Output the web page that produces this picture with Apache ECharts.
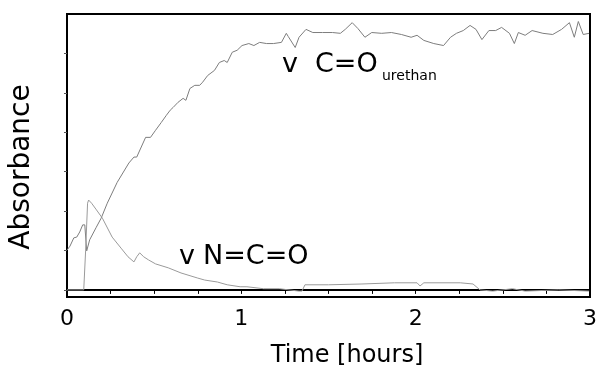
<!DOCTYPE html>
<html>
<head>
<meta charset="utf-8">
<script src="https://cdn.jsdelivr.net/npm/echarts@6/dist/echarts.min.js"></script>
<style>
  html, body { margin: 0; padding: 0; background: #fff; }
  #chart { width: 600px; height: 368px; }
</style>
</head>
<body>
<div id="chart"></div>
<script>
// time in hours, absorbance in arbitrary units (one y tick = 0.1)
const coTime = [0, 0.017, 0.039, 0.056, 0.073, 0.09, 0.102, 0.113, 0.13, 0.168, 0.196, 0.231, 0.288, 0.355, 0.384, 0.4,
  0.451, 0.479, 0.508, 0.541, 0.57, 0.592, 0.609, 0.637, 0.666, 0.682, 0.705, 0.733, 0.761, 0.778, 0.807, 0.846,
  0.874, 0.902, 0.919, 0.948, 0.976, 1.004, 1.043, 1.072, 1.105, 1.145, 1.184, 1.23, 1.258, 1.269, 1.309, 1.331,
  1.371, 1.41, 1.466, 1.523, 1.568, 1.596, 1.636, 1.669, 1.709, 1.748, 1.805, 1.861, 1.918, 1.974, 2.008, 2.047,
  2.104, 2.16, 2.2, 2.234, 2.273, 2.312, 2.346, 2.38, 2.42, 2.459, 2.493, 2.538, 2.566, 2.589, 2.628, 2.668,
  2.73, 2.786, 2.837, 2.882, 2.91, 2.933, 2.961, 2.995]
const coValue = [0.101, 0.111, 0.132, 0.134, 0.147, 0.165, 0.165, 0.099, 0.127, 0.159, 0.182, 0.22, 0.273, 0.322, 0.337, 0.337,
  0.387, 0.387, 0.405, 0.425, 0.443, 0.456, 0.463, 0.476, 0.486, 0.481, 0.511, 0.519, 0.519, 0.527, 0.544, 0.557,
  0.577, 0.582, 0.577, 0.603, 0.608, 0.62, 0.625, 0.62, 0.628, 0.625, 0.625, 0.628, 0.651, 0.643, 0.615, 0.641,
  0.661, 0.653, 0.653, 0.653, 0.651, 0.661, 0.678, 0.663, 0.641, 0.653, 0.651, 0.653, 0.648, 0.641, 0.646, 0.633,
  0.625, 0.62, 0.641, 0.651, 0.658, 0.671, 0.661, 0.635, 0.658, 0.658, 0.666, 0.651, 0.625, 0.653, 0.646, 0.658,
  0.651, 0.648, 0.661, 0.678, 0.641, 0.681, 0.648, 0.651]

const ncoTime = [0, 0.096, 0.099, 0.107, 0.118, 0.124, 0.141, 0.169, 0.203, 0.259, 0.31, 0.35, 0.384, 0.4, 0.417, 0.44,
  0.468, 0.508, 0.581, 0.654, 0.75, 0.79, 0.863, 0.919, 0.993, 1.032, 1.128, 1.218, 1.331, 1.348, 1.365, 1.5,
  1.692, 1.878, 2.008, 2.025, 2.047, 2.256, 2.329, 2.369, 2.442, 2.555, 2.628, 2.82, 2.995]
const ncoValue = [0, 0, 0, 0.101, 0.22, 0.228, 0.22, 0.203, 0.182, 0.134, 0.106, 0.084, 0.071, 0.084, 0.094, 0.084,
  0.076, 0.066, 0.056, 0.043, 0.03, 0.025, 0.02, 0.013, 0.008, 0.008, 0.003, 0.003, -0.003, -0.003, 0.013, 0.013,
  0.015, 0.018, 0.018, 0.01, 0.018, 0.018, 0.015, 0, -0.003, 0.003, -0.003, 0, -0.003]

const xTickValues = [0, 0.25, 0.5, 0.75, 1, 1.25, 1.5, 1.75, 2, 2.25, 2.5, 2.75, 3]
const xLabelValues = [0, 1, 2, 3]
const yTickValues = [0, 0.1, 0.2, 0.3, 0.4, 0.5, 0.6]

const font = 'DejaVu Sans'
const chart = echarts.init(document.getElementById('chart'))

const option = {
  animation: false,
  grid: {
    left: 67, right: 1, top: 14, bottom: 71,
    show: true, borderColor: '#000', borderWidth: 2
  },
  xAxis: {
    type: 'value',
    min: 0, max: 3,
    axisLine: { show: true, lineStyle: { color: '#000', width: 2 } },
    axisTick: { show: true, customValues: xTickValues, length: 4, lineStyle: { color: '#000' } },
    axisLabel: { customValues: xLabelValues, color: '#000', fontFamily: font, fontSize: 22, margin: 11 },
    splitLine: { show: false }
  },
  yAxis: {
    type: 'value',
    min: -0.018, max: 0.7,
    axisLine: { show: true, lineStyle: { color: '#000', width: 2 } },
    axisTick: { show: true, customValues: yTickValues, length: 3, lineStyle: { color: '#555' } },
    axisLabel: { show: false },
    splitLine: { show: false }
  },
  graphic: [
    { type: 'text', x: 22, y: 167, rotation: Math.PI / 2,
      style: { text: 'Absorbance', font: '28px "DejaVu Sans"', fill: '#000', align: 'center', verticalAlign: 'middle' } },
    { type: 'text', x: 347, y: 356,
      style: { text: 'Time [hours]', font: '24px "DejaVu Sans"', fill: '#000', align: 'center', verticalAlign: 'middle' } },
    { type: 'text', x: 282, y: 65,
      style: { text: 'v', font: '27px "DejaVu Sans"', fill: '#000', align: 'left', verticalAlign: 'middle' } },
    { type: 'text', x: 315, y: 65,
      style: { text: 'C=O', font: '27px "DejaVu Sans"', fill: '#000', align: 'left', verticalAlign: 'middle' } },
    { type: 'text', x: 382, y: 76,
      style: { text: 'urethan', font: '14px "DejaVu Sans"', fill: '#000', align: 'left', verticalAlign: 'middle' } },
    { type: 'text', x: 179, y: 257,
      style: { text: 'v', font: '27px "DejaVu Sans"', fill: '#000', align: 'left', verticalAlign: 'middle' } },
    { type: 'text', x: 203, y: 257,
      style: { text: 'N=C=O', font: '27px "DejaVu Sans"', fill: '#000', align: 'left', verticalAlign: 'middle' } }
  ],
  series: [
    {
      name: 'C=O urethan',
      type: 'line',
      data: coTime.map((t, i) => [t, coValue[i]]),
      showSymbol: false,
      lineStyle: { color: '#7d7d7d', width: 1 }
    },
    {
      name: 'N=C=O',
      type: 'line',
      data: ncoTime.map((t, i) => [t, ncoValue[i]]),
      showSymbol: false,
      lineStyle: { color: '#9a9a9a', width: 1 }
    }
  ]
}
chart.setOption(option)
</script>
</body>
</html>
